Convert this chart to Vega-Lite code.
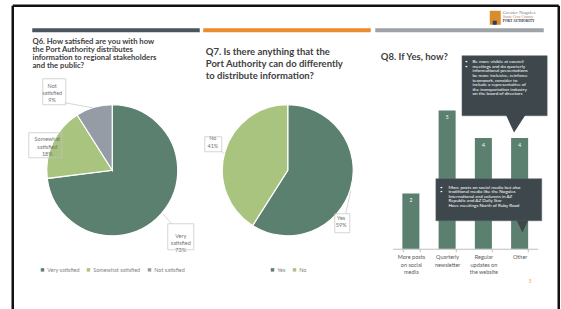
{
  "$schema": "https://vega.github.io/schema/vega-lite/v6.json",
  "background": "white",
  "padding": {"left": 10.75, "top": 3.75, "right": 0, "bottom": 0},
  "config": {
    "font": "Lato",
    "view": {"stroke": null},
    "title": {"font": "Lato", "fontWeight": "bold", "color": "#404040", "anchor": "start", "frame": "group", "baseline": "bottom"},
    "legend": {"orient": "bottom", "direction": "horizontal", "title": null, "symbolType": "square", "symbolSize": 12, "symbolStrokeWidth": 0, "labelFontSize": 5.5, "labelColor": "#7f7f7f", "offset": 9, "columnPadding": 6, "labelOffset": 2,
      "layout": {"bottom": {"anchor": "middle", "direction": "horizontal"}}}
  },
  "resolve": {"scale": {"color": "independent", "theta": "independent", "x": "independent", "y": "independent"}},
  "spacing": 20,
  "bounds": "flush",
  "hconcat": [
    {
      "width": 141,
      "height": 175,
      "title": {"text": ["Q6.  How satisfied are you with how", "the Port Authority distributes", "information to regional stakeholders", "and the public?"], "fontSize": 7.7, "lineHeight": 8, "dx": -9.3, "offset": 13},
      "data": {"values": [
        {"response": "Very satisfied", "pct": 73, "label": ["Very", "satisfied", "73%"]},
        {"response": "Somewhat satisfied", "pct": 18, "label": ["Somewhat", "satisfied", "18%"]},
        {"response": "Not satisfied", "pct": 9, "label": ["Not", "satisfied", "9%"]}
      ]},
      "encoding": {
        "theta": {"field": "pct", "type": "quantitative", "stack": true},
        "order": {"field": "pct", "sort": "descending"},
        "color": {"field": "response", "type": "nominal", "scale": {"domain": ["Very satisfied", "Somewhat satisfied", "Not satisfied"], "range": ["#5b806f", "#a9c47f", "#959ca6"]}}
      },
      "layer": [
        {"mark": {"type": "arc", "outerRadius": 65.5, "stroke": "white", "strokeWidth": 1.2}},
        {
          "mark": {"type": "text", "radius": 90, "fontSize": 5.5, "lineHeight": 7.3, "baseline": "middle",
            "dx": {"expr": "datum.response === 'Very satisfied' ? 1 : datum.response === 'Somewhat satisfied' ? 16.5 : -35"},
            "dy": {"expr": "datum.response === 'Very satisfied' ? 6 : datum.response === 'Somewhat satisfied' ? 7.5 : 2"}},
          "encoding": {"text": {"field": "label"}, "color": {"value": "#737373"}}
        }
      ]
    },
    {
      "width": 170,
      "height": 175,
      "title": {"text": ["Q7.  Is there anything that the", "Port Authority can do differently", "to distribute information?"], "fontSize": 9.5, "lineHeight": 11.8, "dx": 3, "offset": 2.5},
      "data": {"values": [
        {"response": "Yes", "pct": 59, "label": ["Yes", "59%"]},
        {"response": "No", "pct": 41, "label": ["No", "41%"]}
      ]},
      "encoding": {
        "theta": {"field": "pct", "type": "quantitative", "stack": true},
        "order": {"field": "pct", "sort": "descending"},
        "color": {"field": "response", "type": "nominal", "scale": {"domain": ["Yes", "No"], "range": ["#5b806f", "#a9c47f"]}}
      },
      "layer": [
        {"mark": {"type": "arc", "outerRadius": 65.5, "stroke": "white", "strokeWidth": 1.2}},
        {
          "mark": {"type": "text", "radius": 78, "fontSize": 5.5, "lineHeight": 7.3, "baseline": "middle",
            "dx": {"expr": "datum.response === 'Yes' ? -21.5 : 0"},
            "dy": {"expr": "datum.response === 'Yes' ? 26 : -10"}},
          "encoding": {"text": {"field": "label"}, "color": {"value": "#737373"}}
        }
      ]
    },
    {
      "width": 145,
      "height": 166,
      "resolve": {"scale": {"x": "independent"}, "axis": {"x": "independent"}},
      "layer": [
        {
          "data": {"values": [
            {"option": "More posts on social media", "count": 2},
            {"option": "Quarterly newsletter", "count": 5},
            {"option": "Regular updates on the website", "count": 4},
            {"option": "Other", "count": 4}
          ]},
          "encoding": {
            "x": {"field": "option", "type": "nominal", "sort": null, "scale": {"paddingInner": 0.53, "paddingOuter": 0.265},
              "axis": {"title": null, "labelAngle": 0, "labelFontSize": 5.5, "labelColor": "#595959", "domainColor": "#bfbfbf", "tickColor": "#bfbfbf", "tickBand": "extent", "tickSize": 3, "labelPadding": 3, "labelLineHeight": 7.3,
                "labelExpr": "datum.label == 'More posts on social media' ? ['More posts', 'on social', 'media'] : datum.label == 'Quarterly newsletter' ? ['Quarterly', 'newsletter'] : datum.label == 'Regular updates on the website' ? ['Regular', 'updates on', 'the website'] : datum.label"}},
            "y": {"field": "count", "type": "quantitative", "scale": {"domain": [0, 6], "nice": false},
              "axis": {"title": null, "values": [0, 1, 2, 3, 4, 5, 6], "grid": true, "gridColor": "#d9d9d9", "gridWidth": 0.75, "domain": false, "ticks": false, "labelFontSize": 5, "labelColor": "#595959", "labelPadding": 7}}
          },
          "layer": [
            {"mark": {"type": "bar", "color": "#5b806f"}},
            {"mark": {"type": "text", "color": "white", "fontSize": 5, "baseline": "middle", "dy": 6.5}, "encoding": {"text": {"field": "count"}}}
          ]
        },
        {
          "layer": [
            {
              "data": {"values": [{"x": -0.331, "y": 6.94, "t": "Q8.  If Yes, how?"}]},
              "mark": {"type": "text", "align": "left", "baseline": "middle", "fontSize": 9.5, "fontWeight": "bold", "color": "#404040"},
              "encoding": {
                "x": {"field": "x", "type": "quantitative", "scale": {"domain": [0, 4], "nice": false}, "axis": null},
                "y": {"field": "y", "type": "quantitative", "scale": {"domain": [0, 6], "nice": false}, "axis": null},
                "text": {"field": "t"}
              }
            },
            {
              "data": {"values": [
                {"box": "visibility", "x0": 1.91, "x1": 4.26, "y0": 6.976, "y1": 4.807},
                {"box": "media", "x0": 1.19, "x1": 4.11, "y0": 2.53, "y1": 1.012}
              ]},
              "mark": {"type": "rect", "fill": "#3d474c", "stroke": "#56636a", "strokeWidth": 0.5},
              "encoding": {
                "x": {"field": "x0", "type": "quantitative", "scale": {"domain": [0, 4], "nice": false}, "axis": null},
                "x2": {"field": "x1"},
                "y": {"field": "y0", "type": "quantitative", "scale": {"domain": [0, 6], "nice": false}, "axis": null},
                "y2": {"field": "y1"}
              }
            },
            {
              "data": {"values": [{"box": "visibility", "x": 3.393, "y": 4.507}]},
              "mark": {"type": "point", "filled": true, "opacity": 1, "color": "#3d474c", "size": 400, "shape": "M-1,-0.95L1,-0.95L-0.17,0.84Z"},
              "encoding": {
                "x": {"field": "x", "type": "quantitative", "scale": {"domain": [0, 4], "nice": false}, "axis": null},
                "y": {"field": "y", "type": "quantitative", "scale": {"domain": [0, 6], "nice": false}, "axis": null}
              }
            },
            {
              "data": {"values": [{"box": "media", "x": 3.577, "y": 0.795}]},
              "mark": {"type": "point", "filled": true, "opacity": 1, "color": "#3d474c", "size": 130, "shape": "M-1,-1.1L1,-1.1L0,1Z"},
              "encoding": {
                "x": {"field": "x", "type": "quantitative", "scale": {"domain": [0, 4], "nice": false}, "axis": null},
                "y": {"field": "y", "type": "quantitative", "scale": {"domain": [0, 6], "nice": false}, "axis": null}
              }
            },
            {
              "data": {"values": [
                {"box": "visibility", "x": 1.995, "y": 6.85, "lines": ["•", "", "", "•"]},
                {"box": "visibility", "x": 2.198, "y": 6.85, "lines": ["Be more visible at council", "meetings and do quarterly", "informational presentations", "be more inclusive, reinforce", "teamwork, consider to", "include a representative of", "", "the transportation industry", "on the board of directors"]},
                {"box": "media", "x": 1.306, "y": 2.32, "lines": ["•", "", "", "", "", "•"]},
                {"box": "media", "x": 1.536, "y": 2.32, "lines": ["More posts on social media but also", "traditional media like the Nogales", "International and columns in AZ", "", "Republic and AZ Daily Star", "Have meetings North of Ruby Road"]}
              ]},
              "mark": {"type": "text", "align": "left", "baseline": "top", "fontSize": 4.6, "lineHeight": 4.6, "color": "white"},
              "encoding": {
                "x": {"field": "x", "type": "quantitative", "scale": {"domain": [0, 4], "nice": false}, "axis": null},
                "y": {"field": "y", "type": "quantitative", "scale": {"domain": [0, 6], "nice": false}, "axis": null},
                "text": {"field": "lines"}
              }
            },
            {
              "data": {"values": [{"x": 3.79, "y": -1.18, "page": "5"}]},
              "mark": {"type": "text", "fontSize": 5, "color": "#f0a04b", "baseline": "middle"},
              "encoding": {
                "x": {"field": "x", "type": "quantitative", "scale": {"domain": [0, 4], "nice": false}, "axis": null},
                "y": {"field": "y", "type": "quantitative", "scale": {"domain": [0, 6], "nice": false}, "axis": null},
                "text": {"field": "page"}
              }
            }
          ]
        }
      ]
    },
    {
      "width": 1,
      "height": 175,
      "layer": [
        {
          "data": {"values": [{"part": "Q6 band", "x0": 31.5, "x1": 199, "y0": 27.5, "y1": 31.5}]},
          "mark": {"type": "rect", "color": "#4b555c"},
          "encoding": {
            "x": {"field": "x0", "type": "quantitative", "scale": {"domain": [557, 558], "nice": false, "zero": false}, "axis": null},
            "x2": {"field": "x1"},
            "y": {"field": "y0", "type": "quantitative", "scale": {"domain": [82, 257], "nice": false, "zero": false, "reverse": true}, "axis": null},
            "y2": {"field": "y1"}
          }
        },
        {
          "data": {"values": [{"part": "Q7 band", "x0": 202.5, "x1": 370, "y0": 27.5, "y1": 31.5}]},
          "mark": {"type": "rect", "color": "#ed8a2e"},
          "encoding": {
            "x": {"field": "x0", "type": "quantitative", "axis": null},
            "x2": {"field": "x1"},
            "y": {"field": "y0", "type": "quantitative", "axis": null},
            "y2": {"field": "y1"}
          }
        },
        {
          "data": {"values": [{"part": "Q8 band", "x0": 374.5, "x1": 543, "y0": 27.5, "y1": 31.5}]},
          "mark": {"type": "rect", "color": "#9ea3a8"},
          "encoding": {
            "x": {"field": "x0", "type": "quantitative", "axis": null},
            "x2": {"field": "x1"},
            "y": {"field": "y0", "type": "quantitative", "axis": null},
            "y2": {"field": "y1"}
          }
        },
        {
          "data": {"values": [
            {"label": "Not satisfied 9%", "x0": 42, "x1": 65, "y0": 78, "y1": 104},
            {"label": "Somewhat satisfied 18%", "x0": 28, "x1": 61, "y0": 132, "y1": 157},
            {"label": "Very satisfied 73%", "x0": 167, "x1": 193, "y0": 223, "y1": 249},
            {"label": "No 41%", "x0": 204, "x1": 221, "y0": 136, "y1": 151},
            {"label": "Yes 59%", "x0": 334, "x1": 349, "y0": 213, "y1": 232}
          ]},
          "mark": {"type": "rect", "fill": null, "fillOpacity": 0, "stroke": "#c4c4c4", "strokeWidth": 0.7},
          "encoding": {
            "x": {"field": "x0", "type": "quantitative", "axis": null},
            "x2": {"field": "x1"},
            "y": {"field": "y0", "type": "quantitative", "axis": null},
            "y2": {"field": "y1"}
          }
        },
        {
          "data": {"values": [
            {"label": "Not satisfied 9%", "x0": 64, "y0": 102, "x1": 92, "y1": 107},
            {"label": "Very satisfied 73%", "x0": 171, "y0": 223, "x1": 162, "y1": 213},
            {"label": "Yes 59%", "x0": 345, "y0": 213, "x1": 350, "y1": 190},
            {"label": "No 41%", "x0": 220, "y0": 150, "x1": 223, "y1": 153}
          ]},
          "mark": {"type": "rule", "color": "#c4c4c4", "strokeWidth": 0.7},
          "encoding": {
            "x": {"field": "x0", "type": "quantitative", "axis": null},
            "x2": {"field": "x1"},
            "y": {"field": "y0", "type": "quantitative", "axis": null},
            "y2": {"field": "y1"}
          }
        },
        {
          "data": {"values": [{"part": "logo", "x0": 489, "x1": 500, "y0": 10, "y1": 24}]},
          "mark": {"type": "rect", "color": "#d98c2b"},
          "encoding": {
            "x": {"field": "x0", "type": "quantitative", "axis": null},
            "x2": {"field": "x1"},
            "y": {"field": "y0", "type": "quantitative", "axis": null},
            "y2": {"field": "y1"}
          }
        },
        {
          "data": {"values": [{"part": "logo mark", "x0": 492, "x1": 496, "y0": 20, "y1": 24}]},
          "mark": {"type": "rect", "color": "#2d3f6e"},
          "encoding": {
            "x": {"field": "x0", "type": "quantitative", "axis": null},
            "x2": {"field": "x1"},
            "y": {"field": "y0", "type": "quantitative", "axis": null},
            "y2": {"field": "y1"}
          }
        },
        {
          "data": {"values": [{"x": 502, "y": 11.5, "t": "Greater Nogales"}]},
          "mark": {"type": "text", "align": "left", "baseline": "middle", "font": "Liberation Serif", "fontSize": 5, "color": "#6f7d90"},
          "encoding": {
            "x": {"field": "x", "type": "quantitative", "axis": null},
            "y": {"field": "y", "type": "quantitative", "axis": null},
            "text": {"field": "t"}
          }
        },
        {
          "data": {"values": [{"x": 502, "y": 16, "t": "Santa Cruz County"}]},
          "mark": {"type": "text", "align": "left", "baseline": "middle", "font": "Liberation Serif", "fontSize": 4, "color": "#c0884a"},
          "encoding": {
            "x": {"field": "x", "type": "quantitative", "axis": null},
            "y": {"field": "y", "type": "quantitative", "axis": null},
            "text": {"field": "t"}
          }
        },
        {
          "data": {"values": [{"x": 502, "y": 20.5, "t": "PORT  AUTHORITY"}]},
          "mark": {"type": "text", "align": "left", "baseline": "middle", "font": "Liberation Serif", "fontSize": 3.5, "fontWeight": "bold", "color": "#1f2d50"},
          "encoding": {
            "x": {"field": "x", "type": "quantitative", "axis": null},
            "y": {"field": "y", "type": "quantitative", "axis": null},
            "text": {"field": "t"}
          }
        },
        {
          "data": {"values": [
            {"edge": "left", "x0": 12, "y0": 5, "x1": 12, "y1": 310},
            {"edge": "top", "x0": 12, "y0": 5, "x1": 558, "y1": 5},
            {"edge": "right", "x0": 558, "y0": 5, "x1": 558, "y1": 310}
          ]},
          "mark": {"type": "rule", "color": "#111111", "strokeWidth": 2.5},
          "encoding": {
            "x": {"field": "x0", "type": "quantitative", "axis": null},
            "x2": {"field": "x1"},
            "y": {"field": "y0", "type": "quantitative", "axis": null},
            "y2": {"field": "y1"}
          }
        }
      ]
    }
  ]
}
